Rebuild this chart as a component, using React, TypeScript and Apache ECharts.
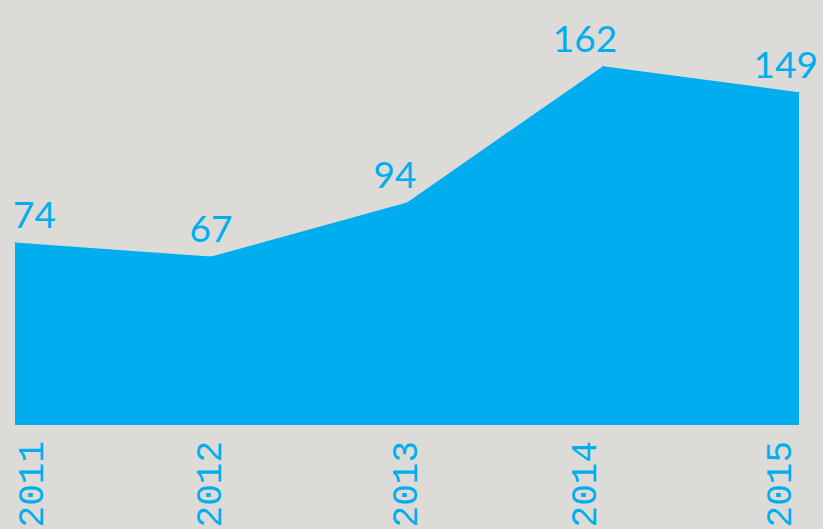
import React, { useEffect, useRef } from "react";
import * as echarts from "echarts";

const years = ["2011", "2012", "2013", "2014", "2015"];
const values = [74, 67, 94, 162, 149];

const BLUE = "#00aeef";
const BG = "#dcdbd7";
const MONO = "'Liberation Mono', 'Courier New', Cousine, monospace";

export default function App() {
  const ref = useRef<HTMLDivElement>(null);
  useEffect(() => {
    if (!ref.current) return;
    const chart = echarts.init(ref.current, null, { renderer: "svg" });
    const last = values.length - 1;
    const labelFor = (i: number) => {
      if (i === 0) return { align: "left", offset: [-2, 0] };
      if (i === last) return { align: "right", offset: [19, 0] };
      if (i === 2) return { offset: [-12, 0] };
      if (i === 3) return { offset: [-18, 0] };
      return {};
    };
    chart.setOption({
      animation: false,
      backgroundColor: BG,
      grid: { left: 15, right: 24, top: 0, bottom: 104, containLabel: false, outerBoundsMode: "none" },
      xAxis: {
        type: "category",
        data: years,
        boundaryGap: false,
        axisLine: { show: false },
        axisTick: { show: false },
        splitLine: { show: false },
        axisLabel: {
          rotate: 90,
          margin: 16,
          color: BLUE,
          fontFamily: MONO,
          fontSize: 36,
          hideOverlap: false,
          verticalAlignMinLabel: "top",
          verticalAlignMaxLabel: "bottom",
          formatter: (v: string, i: number) => (i === 3 ? "{s|" + v + "}" : v),
          rich: {
            s: { padding: [0, 0, 34, 0], fontFamily: MONO, fontSize: 36, color: BLUE },
          },
        },
      },
      yAxis: {
        type: "value",
        min: -17,
        max: 195,
        show: false,
        splitLine: { show: false },
      },
      series: [
        {
          type: "line",
          data: values.map((v, i) => ({ value: v, label: labelFor(i) })),
          symbol: "circle",
          symbolSize: 1,
          showSymbol: true,
          itemStyle: { color: BLUE },
          lineStyle: { width: 0 },
          areaStyle: { color: BLUE, opacity: 1, origin: "start" },
          label: {
            show: true,
            position: "top",
            distance: 10,
            color: BLUE,
            fontFamily: "Lato",
            fontWeight: "normal",
            fontSize: 37,
          },
        },
      ],
    });
    return () => chart.dispose();
  }, []);
  return (
    <div
      ref={ref}
      style={{ position: "fixed", left: 0, top: 0, width: 823, height: 529, background: BG }}
    />
  );
}
